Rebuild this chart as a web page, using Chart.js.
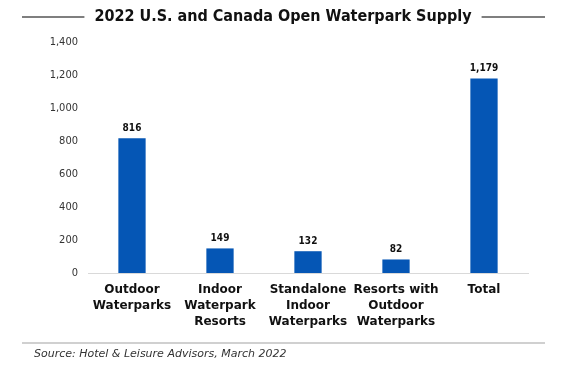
<!DOCTYPE html>
<html>
<head>
<meta charset="utf-8">
<script src="https://cdn.jsdelivr.net/npm/chart.js@4"></script>
<style>
  html, body { margin: 0; padding: 0; background: #fff; }
  #wrap { width: 564px; height: 370px; position: relative; }
</style>
</head>
<body>
<div id="wrap"><canvas id="myChart" width="564" height="370"></canvas></div>
<script>
const categories = [
  ["Outdoor", "Waterparks"],
  ["Indoor", "Waterpark", "Resorts"],
  ["Standalone", "Indoor", "Waterparks"],
  ["Resorts with", "Outdoor", "Waterparks"],
  ["Total"]
];
const supply = [816, 149, 132, 82, 1179];
const yTicks = [0, 200, 400, 600, 800, 1000, 1200, 1400];
const chartTitle = "2022 U.S. and Canada Open Waterpark Supply";
const sourceNote = "Source: Hotel & Leisure Advisors, March 2022";

const FONT = "'DejaVu Sans Condensed', 'DejaVu Sans', sans-serif";
const WIDE = "'DejaVu Sans', sans-serif";

const decorations = {
  id: "decorations",
  afterDraw(chart) {
    const ctx = chart.ctx;
    ctx.save();
    // title with rules either side
    ctx.font = "bold 16px " + FONT;
    ctx.fillStyle = "#111";
    ctx.textAlign = "center";
    ctx.textBaseline = "middle";
    const cx = 283, ty = 17;
    ctx.fillText(chartTitle, cx, ty);
    const w = ctx.measureText(chartTitle).width;
    ctx.strokeStyle = "#7f7f7f";
    ctx.lineWidth = 2;
    ctx.beginPath();
    ctx.moveTo(22, ty); ctx.lineTo(cx - w / 2 - 10, ty);
    ctx.moveTo(cx + w / 2 + 10, ty); ctx.lineTo(545, ty);
    ctx.stroke();

    // value labels
    ctx.font = "bold 10px " + FONT;
    ctx.fillStyle = "#111";
    ctx.textBaseline = "bottom";
    const meta = chart.getDatasetMeta(0);
    meta.data.forEach((bar, i) => {
      ctx.fillText(supply[i].toLocaleString("en-US"), bar.x, bar.y - 5);
    });

    // footer rule and source
    ctx.strokeStyle = "#d0d0d0";
    ctx.beginPath();
    ctx.moveTo(22, 343); ctx.lineTo(545, 343);
    ctx.stroke();
    ctx.font = "italic 11px " + WIDE;
    ctx.fillStyle = "#333";
    ctx.textAlign = "left";
    ctx.textBaseline = "middle";
    ctx.fillText(sourceNote, 34, 354);
    ctx.restore();
  }
};

new Chart(document.getElementById("myChart").getContext("2d"), {
  type: "bar",
  data: {
    labels: categories,
    datasets: [{
      data: supply,
      backgroundColor: "#0556b5",
      barPercentage: 0.31,
      categoryPercentage: 1.0
    }]
  },
  options: {
    responsive: false,
    animation: false,
    layout: { padding: { top: 42, right: 36, bottom: 0, left: 0 } },
    plugins: {
      legend: { display: false },
      tooltip: { enabled: false }
    },
    scales: {
      x: {
        grid: { display: false, drawTicks: false },
        border: { color: "#d9d9d9", width: 1 },
        ticks: {
          color: "#111",
          padding: 9,
          maxRotation: 0,
          autoSkip: false,
          font: { family: WIDE, size: 12, weight: "bold", lineHeight: 1.33 }
        },
        afterFit(scale) { scale.height = 97; }
      },
      y: {
        min: 0,
        max: 1400,
        afterBuildTicks(scale) { scale.ticks = yTicks.map(v => ({ value: v })); },
        grid: { display: false, drawTicks: false },
        border: { display: false },
        ticks: {
          color: "#333",
          padding: 10,
          font: { family: FONT, size: 11 },
          callback: v => v.toLocaleString("en-US")
        },
        afterFit(scale) { scale.width = 88; }
      }
    }
  },
  plugins: [decorations]
});
</script>
</body>
</html>
